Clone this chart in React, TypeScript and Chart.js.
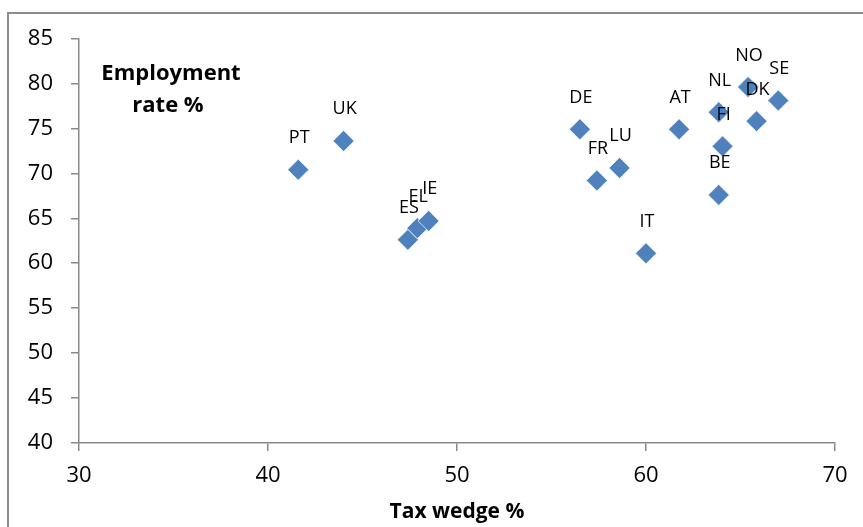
import React, { useEffect, useRef } from "react";
import { Chart, registerables } from "chart.js";

Chart.register(...registerables);

const countries = ["PT", "UK", "ES", "EL", "IE", "DE", "FR", "LU", "IT", "AT", "NL", "FI", "BE", "NO", "DK", "SE"];
const taxWedge = [41.6, 44.0, 47.4, 47.9, 48.5, 56.5, 57.4, 58.6, 60.0, 61.75, 63.85, 64.05, 63.85, 65.4, 65.85, 67.0];
const employmentRate = [70.4, 73.6, 62.6, 63.9, 64.7, 74.9, 69.2, 70.6, 61.1, 74.9, 76.8, 73.0, 67.6, 79.6, 75.8, 78.1];

const xTitle = "Tax wedge %";
const yTitleLines = ["Employment", "rate %"];

const FONT = "'Open Sans', sans-serif";
const GRAY = "#898989";

const decorPlugin = {
  id: "decor",
  beforeDraw(chart: any) {
    const ctx = chart.ctx;
    ctx.save();
    ctx.strokeStyle = "#8c8c8c";
    ctx.lineWidth = 2;
    ctx.beginPath();
    ctx.moveTo(8, 527);
    ctx.lineTo(8, 13);
    ctx.lineTo(863, 13);
    ctx.stroke();
    ctx.restore();
  },
  afterDraw(chart: any) {
    const ctx = chart.ctx;
    ctx.save();
    ctx.fillStyle = "#000";
    ctx.textAlign = "center";
    ctx.textBaseline = "alphabetic";
    ctx.font = `bold 22px ${FONT}`;
    ctx.fillText(yTitleLines[0], 171, 80);
    ctx.fillText(yTitleLines[1], 168, 112);
    ctx.font = `bold 21px ${FONT}`;
    ctx.fillText(xTitle, 457, 518);
    // data labels
    const meta = chart.getDatasetMeta(0);
    ctx.font = `18px ${FONT}`;
    meta.data.forEach((pt: any, i: number) => {
      ctx.fillText(countries[i], pt.x + 1, pt.y - 26.5);
    });
    ctx.restore();
  },
};

export default function App() {
  const ref = useRef<HTMLCanvasElement>(null);
  useEffect(() => {
    if (!ref.current) return;
    const chart = new Chart(ref.current, {
      type: "scatter",
      data: {
        datasets: [
          {
            data: taxWedge.map((x, i) => ({ x, y: employmentRate[i] })),
            pointStyle: "rectRot",
            pointRadius: 10.5,
            pointHoverRadius: 10.5,
            backgroundColor: "#4F81BD",
            borderColor: "#e8eef7",
            borderWidth: 0.8,
          },
        ],
      },
      options: {
        animation: false,
        responsive: false,
        devicePixelRatio: 1,
        events: [],
        layout: { padding: { left: 0, right: 28, top: 38.5, bottom: 0 } },
        plugins: { legend: { display: false }, tooltip: { enabled: false } },
        scales: {
          x: {
            type: "linear",
            min: 30,
            max: 70,
            ticks: { stepSize: 10, color: "#000", font: { family: FONT, size: 22 }, padding: 12 },
            grid: { display: true, drawOnChartArea: false, drawTicks: true, tickLength: 8, color: GRAY, lineWidth: 1.5 },
            border: { display: true, color: GRAY, width: 1.5 },
            afterFit: (s: any) => { s.height = 84; },
          },
          y: {
            type: "linear",
            min: 40,
            max: 85,
            ticks: { stepSize: 5, color: "#000", font: { family: FONT, size: 22 }, padding: 18 },
            grid: { display: true, drawOnChartArea: false, drawTicks: true, tickLength: 8, color: GRAY, lineWidth: 1.5 },
            border: { display: true, color: GRAY, width: 1.5 },
            afterFit: (s: any) => { s.width = 79; },
          },
        },
      },
      plugins: [decorPlugin],
    });
    return () => chart.destroy();
  }, []);
  return (
    <div style={{ position: "fixed", left: 0, top: 0, width: 863, height: 527, background: "#fff" }}>
      <canvas ref={ref} width={863} height={527} style={{ width: 863, height: 527 }} />
    </div>
  );
}
